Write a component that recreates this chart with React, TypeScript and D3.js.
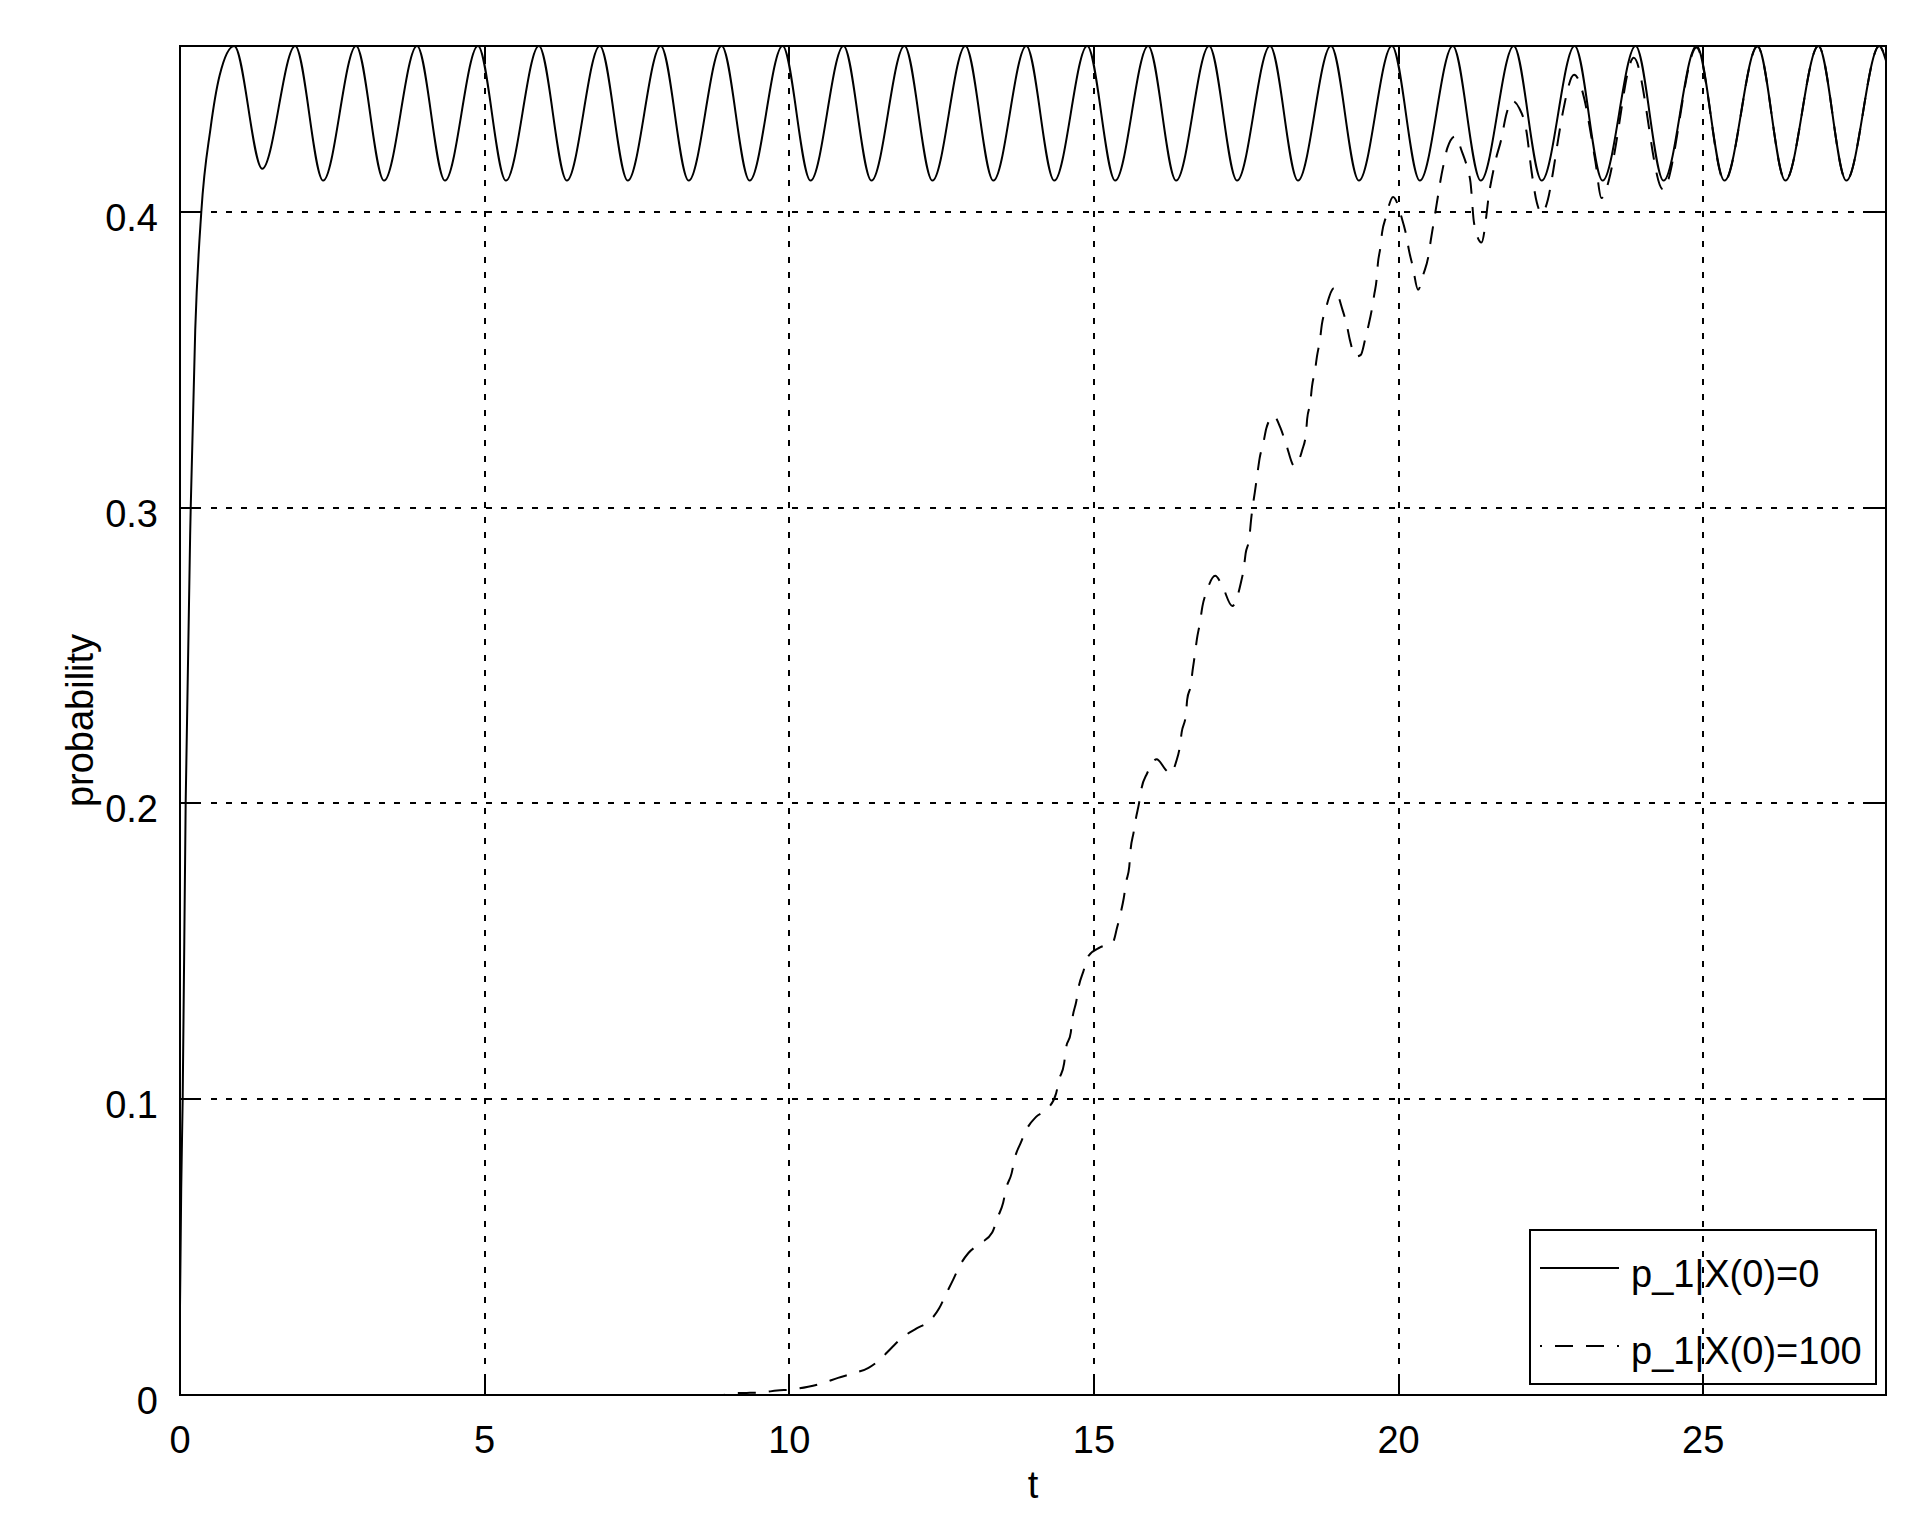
import React from 'react';
import * as d3 from 'd3';

const xTicks = [0, 5, 10, 15, 20, 25];
const xTickLabels = ['0', '5', '10', '15', '20', '25'];
const yTicks = [0, 0.1, 0.2, 0.3, 0.4];
const yTickLabels = ['0', '0.1', '0.2', '0.3', '0.4'];
const legendLabels = ['p_1|X(0)=0', 'p_1|X(0)=100'];
const xLabel = 't';
const yLabel = 'probability';

// p_1 | X(0)=0  (solid)
const tSolid = [
  0, 0.02, 0.044, 0.093, 0.176, 0.25, 0.35, 0.5, 0.65, 0.89,
  1.35, 1.89, 2.35, 2.89, 3.35, 3.89, 4.35, 4.89, 5.35, 5.89,
  6.35, 6.89, 7.35, 7.89, 8.35, 8.89, 9.35, 9.89, 10.35, 10.89,
  11.35, 11.89, 12.35, 12.89, 13.35, 13.89, 14.35, 14.89, 15.35, 15.89,
  16.35, 16.89, 17.35, 17.89, 18.35, 18.89, 19.35, 19.89, 20.35, 20.89,
  21.35, 21.89, 22.35, 22.89, 23.35, 23.89, 24.35, 24.89, 25.35, 25.89,
  26.35, 26.89, 27.35, 27.89, 28,
];
const pSolid = [
  0.03, 0.07, 0.1, 0.2, 0.3, 0.36, 0.4, 0.428, 0.446, 0.456,
  0.4145, 0.456, 0.4105, 0.456, 0.4105, 0.456, 0.4105, 0.456, 0.4105, 0.456,
  0.4105, 0.456, 0.4105, 0.456, 0.4105, 0.456, 0.4105, 0.456, 0.4105, 0.456,
  0.4105, 0.456, 0.4105, 0.456, 0.4105, 0.456, 0.4105, 0.456, 0.4105, 0.456,
  0.4105, 0.456, 0.4105, 0.456, 0.4105, 0.456, 0.4105, 0.456, 0.4105, 0.456,
  0.4105, 0.456, 0.4105, 0.456, 0.4105, 0.456, 0.4105, 0.456, 0.4105, 0.456,
  0.4105, 0.456, 0.4105, 0.456, 0.451,
];

// p_1 | X(0)=100  (dashed)
const tDashed = [
  0, 8.9, 9.05, 9.3, 9.55, 9.8, 10.05, 10.31, 10.55,
  10.8, 11.05, 11.3, 11.49, 11.68, 11.86, 12.09, 12.3, 12.46, 12.57,
  12.69, 12.8, 12.94, 13.14, 13.33, 13.42, 13.51, 13.56, 13.65, 13.7,
  13.8, 13.9, 14.05, 14.25, 14.38, 14.43, 14.51, 14.54, 14.62, 14.65,
  14.71, 14.75, 14.83, 14.91, 15.1, 15.31, 15.38, 15.44, 15.49, 15.53,
  15.58, 15.6, 15.65, 15.69, 15.74, 15.78, 15.87, 16.03, 16.18, 16.26,
  16.35, 16.41, 16.44, 16.51, 16.53, 16.59, 16.62, 16.66, 16.69, 16.74,
  16.78, 16.85, 16.99, 17.1, 17.27, 17.41, 17.46, 17.49, 17.55, 17.58,
  17.61, 17.64, 17.68, 17.72, 17.78, 17.83, 17.95, 18.06, 18.15, 18.29,
  18.42, 18.48, 18.5, 18.55, 18.58, 18.63, 18.66, 18.71, 18.74, 18.8,
  18.94, 19.08, 19.15, 19.2, 19.3, 19.38, 19.45, 19.5, 19.56, 19.6,
  19.64, 19.66, 19.7, 19.73, 19.79, 19.91, 20.05, 20.13, 20.17, 20.23,
  20.32, 20.41, 20.49, 20.53, 20.57, 20.61, 20.65, 20.69, 20.75, 20.8,
  20.93, 21.04, 21.13, 21.18, 21.24, 21.36, 21.5, 21.6, 21.68, 21.77,
  21.86, 21.98, 22.1, 22.18, 22.27, 22.35, 22.45, 22.54, 22.62, 22.7,
  22.88, 23.05, 23.15, 23.23, 23.33, 23.45, 23.57, 23.66, 23.75, 23.86,
  24.34, 24.89, 25.35, 25.89, 26.35, 26.89, 27.35, 27.89, 28,
];
const pDashed = [
  0, 0, 0.0006, 0.0007, 0.0009, 0.0015, 0.0019, 0.0028, 0.004,
  0.0058, 0.0073, 0.0092, 0.012, 0.016, 0.0195, 0.0225, 0.025, 0.0293, 0.034,
  0.039, 0.0438, 0.048, 0.0513, 0.0549, 0.06, 0.065, 0.0699, 0.075, 0.08,
  0.0853, 0.09, 0.094, 0.097, 0.102, 0.1067, 0.112, 0.117, 0.1225, 0.1277,
  0.133, 0.138, 0.1434, 0.1484, 0.1513, 0.153, 0.158, 0.163, 0.168, 0.1735,
  0.1786, 0.184, 0.19, 0.195, 0.2, 0.205, 0.21, 0.2149, 0.2113, 0.21,
  0.2141, 0.2192, 0.224, 0.23, 0.235, 0.24, 0.245, 0.2507, 0.2555, 0.261,
  0.2665, 0.2716, 0.2769, 0.2738, 0.2667, 0.2744, 0.2795, 0.2845, 0.2896, 0.296,
  0.301, 0.305, 0.311, 0.3167, 0.3217, 0.3268, 0.331, 0.327, 0.3217, 0.314,
  0.3195, 0.325, 0.33, 0.3353, 0.341, 0.3465, 0.351, 0.3567, 0.3617, 0.3668,
  0.3741, 0.3668, 0.3617, 0.3567, 0.351, 0.3516, 0.3567, 0.361, 0.3668, 0.3719,
  0.3772, 0.3824, 0.3877, 0.393, 0.398, 0.405, 0.398, 0.3916, 0.387, 0.3817,
  0.3736, 0.379, 0.385, 0.3905, 0.3955, 0.4006, 0.4057, 0.4108, 0.417, 0.4215,
  0.4255, 0.4203, 0.4147, 0.41, 0.396, 0.3896, 0.408, 0.418, 0.424, 0.433,
  0.4375, 0.435, 0.427, 0.414, 0.403, 0.3995, 0.404, 0.414, 0.4245, 0.434,
  0.4463, 0.438, 0.427, 0.417, 0.4046, 0.4105, 0.423, 0.435, 0.446, 0.452,
  0.4075, 0.4555, 0.4103, 0.4558, 0.4105, 0.456, 0.4105, 0.456, 0.451,
];

const FONT = '"Liberation Sans", Arial, Helvetica, sans-serif';

export default function App() {
  const W = 1930;
  const H = 1538;
  const L = 180, R = 1886, T = 46, B = 1395;
  const x = d3.scaleLinear().domain([0, 28]).range([L, R]);
  const y = d3.scaleLinear().domain([0, 0.456]).range([B, T]);

  const line = d3
    .line<[number, number]>()
    .x((d) => x(d[0]))
    .y((d) => y(d[1]))
    .curve(d3.curveMonotoneX);

  const solidPath = line(tSolid.map((t, i) => [t, pSolid[i]]) as [number, number][]) || '';
  const dashedPath = line(tDashed.map((t, i) => [t, pDashed[i]]) as [number, number][]) || '';

  const tickLen = 17;
  const fs = 38;

  return (
    <svg
      width={W}
      height={H}
      viewBox={`0 0 ${W} ${H}`}
      style={{ position: 'absolute', left: 0, top: 0, background: '#fff' }}
    >
      <rect x={0} y={0} width={W} height={H} fill="#fff" />
      <defs>
        <clipPath id="plotclip">
          <rect x={L} y={T - 1} width={R - L} height={B - T + 2} />
        </clipPath>
      </defs>

      {/* grid */}
      <g stroke="#000" strokeWidth={2} strokeDasharray="6 9.3" shapeRendering="crispEdges">
        {xTicks.filter((t) => t > 0).map((t) => (
          <line key={'gx' + t} x1={x(t)} x2={x(t)} y1={B} y2={T} />
        ))}
        {yTicks.filter((v) => v > 0).map((v) => (
          <line key={'gy' + v} x1={L} x2={R} y1={y(v)} y2={y(v)} />
        ))}
      </g>

      {/* ticks (inside, all sides) */}
      <g stroke="#000" strokeWidth={2} shapeRendering="crispEdges">
        {xTicks.map((t) => (
          <g key={'tx' + t}>
            <line x1={x(t)} x2={x(t)} y1={B} y2={B - tickLen} />
            <line x1={x(t)} x2={x(t)} y1={T} y2={T + tickLen} />
          </g>
        ))}
        {yTicks.map((v) => (
          <g key={'ty' + v}>
            <line x1={L} x2={L + tickLen} y1={y(v)} y2={y(v)} />
            <line x1={R} x2={R - tickLen} y1={y(v)} y2={y(v)} />
          </g>
        ))}
      </g>

      {/* data */}
      <g clipPath="url(#plotclip)" fill="none" stroke="#000" strokeWidth={2}>
        <path d={dashedPath} strokeDasharray="18 13" />
        <path d={solidPath} />
      </g>

      {/* axes box */}
      <rect x={L} y={T} width={R - L} height={B - T} fill="none" stroke="#000" strokeWidth={2} shapeRendering="crispEdges" />

      {/* tick labels */}
      <g fontFamily={FONT} fontSize={fs} fill="#000">
        {xTicks.map((t, i) => (
          <text key={'lx' + t} x={x(t)} y={B + 58} textAnchor="middle">
            {xTickLabels[i]}
          </text>
        ))}
        {yTicks.map((v, i) => (
          <text key={'ly' + v} x={L - 22} y={y(v) + 19} textAnchor="end">
            {yTickLabels[i]}
          </text>
        ))}
        <text x={(L + R) / 2} y={1498} textAnchor="middle">
          {xLabel}
        </text>
        <text transform={`translate(93, ${(T + B) / 2}) rotate(-90)`} textAnchor="middle">
          {yLabel}
        </text>
      </g>

      {/* legend */}
      <g>
        <rect x={1530} y={1230} width={346} height={154} fill="none" stroke="#000" strokeWidth={2} shapeRendering="crispEdges" />
        <line x1={1540} x2={1619} y1={1268} y2={1268} stroke="#000" strokeWidth={2} />
        <line x1={1540} x2={1619} y1={1346} y2={1346} stroke="#000" strokeWidth={2} strokeDasharray="18 13" strokeDashoffset={16} />
        <text x={1631} y={1287} fontFamily={FONT} fontSize={fs} fill="#000">
          {legendLabels[0]}
        </text>
        <text x={1631} y={1364} fontFamily={FONT} fontSize={fs} fill="#000">
          {legendLabels[1]}
        </text>
      </g>
    </svg>
  );
}
